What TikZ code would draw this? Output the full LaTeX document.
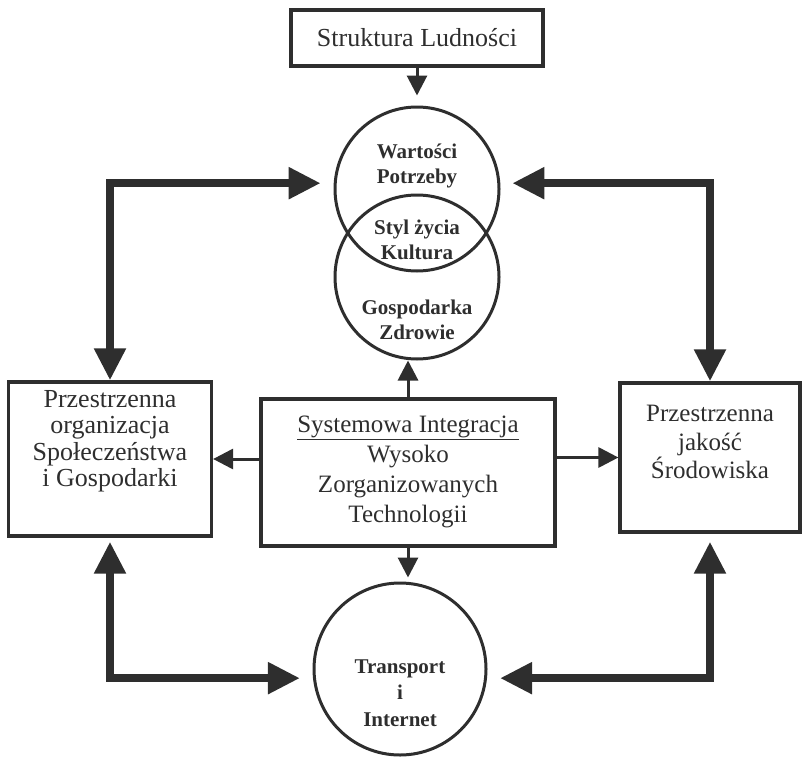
\documentclass[tikz,border=0pt]{standalone}
\usepackage{fontspec}
\setmainfont{Liberation Serif}
\usetikzlibrary{arrows.meta}
\definecolor{ink}{HTML}{2E2E2E}

\begin{document}
\begin{tikzpicture}[x=1pt,y=-1pt,
    frame/.style={draw=ink, line width=3.2pt, inner sep=0pt},
    ring/.style={draw=ink, line width=3pt, circle, inner sep=0pt},
    boxtxt/.style={align=center, text=ink, font=\fontsize{25}{28.5}\selectfont},
    ringtxt/.style={align=center, text=ink, font=\fontsize{21}{25}\selectfont\bfseries},
    smallarr/.style={draw=ink, line width=3pt, -{Triangle[length=20pt,width=20pt]}},
    bigarr/.style={draw=ink, line width=8pt,
      {Triangle[length=32pt,width=30pt]}-{Triangle[length=32pt,width=30pt]}}]
  \useasboundingbox (0,0) rectangle (802,768);

  \node[frame, minimum width=252pt, minimum height=56pt] (top) at (417,38) {};
  \node[boxtxt, font=\fontsize{26}{28}\selectfont] (toptxt) at (417,38) {Struktura Ludności};

  \node[ring, minimum size=164pt] (wv) at (417,189) {};
  \node[ring, minimum size=164pt] (gz) at (417,277) {};
  \node[ringtxt] (wvtxt) at (417,166) {Wartości\\Potrzeby};
  \node[ringtxt] (lenstxt) at (417,240) {Styl życia\\Kultura};
  \node[ringtxt] (gztxt) at (417,320) {Gospodarka\\Zdrowie};

  \node[frame, minimum width=294pt, minimum height=147pt] (ctr) at (408,472.5) {};
  \node[boxtxt, font=\fontsize{25}{30}\selectfont] (ctrtxt) at (408,472)
    {\underline{Systemowa Integracja}\\Wysoko\\Zorganizowanych\\Technologii};

  \node[frame, minimum width=203pt, minimum height=154pt] (lbox) at (110,459) {};
  \node[boxtxt, font=\fontsize{26}{26.5}\selectfont] (lboxtxt) at (110,441)
    {Przestrzenna\\organizacja\\Społeczeństwa\\i Gospodarki};

  \node[frame, minimum width=180pt, minimum height=149pt] (rbox) at (710,457.5) {};
  \node[boxtxt] (rboxtxt) at (710,442) {Przestrzenna\\jakość\\Środowiska};

  \node[ring, minimum size=172pt] (ti) at (400,669) {};
  \node[ringtxt, font=\fontsize{21}{26.5}\selectfont\bfseries] (titxt) at (400,693)
    {Transport\\i\\Internet};

  \draw[smallarr, shorten >=10pt] (top.south) -- (top.south |- wv.north);
  \draw[smallarr] (ctr.north) -- (ctr.north |- gz.south);
  \draw[smallarr, shorten >=4pt] (ctr.south) -- (ctr.south |- ti.north);
  \draw[smallarr] (lbox.east -| ctr.west) -- (lbox.east);
  \draw[smallarr] (rbox.west -| ctr.east) -- (rbox.west);

  \draw[bigarr, shorten <=13pt] (wv.176) -| (lbox.north);
  \draw[bigarr, shorten <=12pt] (wv.4) -| (rbox.north);
  \draw[bigarr, shorten <=4pt, shorten >=13pt] (lbox.south) |- (ti.186);
  \draw[bigarr, shorten <=8pt, shorten >=13pt] (rbox.south) |- (ti.354);
\end{tikzpicture}
\end{document}
